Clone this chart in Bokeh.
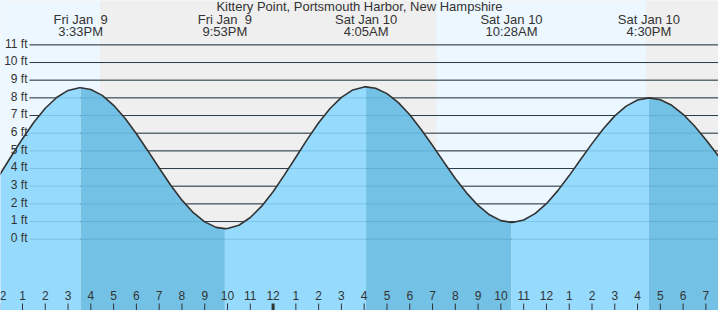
from bokeh.plotting import figure
from bokeh.models import Range1d
from bokeh.embed import file_html
from bokeh.resources import INLINE
from bokeh.core.properties import value

title = "Kittery Point, Portsmouth Harbor, New Hampshire"

# hours since Fri Jan 9 00:00 and water level (ft)
curve_hours = [12.0, 12.5, 13.0, 13.5, 14.0, 14.5, 15.0, 15.5, 15.55,
               16.0, 16.5, 17.0, 17.5, 18.0, 18.5, 19.0, 19.5, 20.0, 20.5, 21.0, 21.5, 21.883,
               22.0, 22.5, 23.0, 23.5, 24.0, 24.5, 25.0, 25.5, 26.0, 26.5, 27.0, 27.5, 28.0, 28.083,
               28.5, 29.0, 29.5, 30.0, 30.5, 31.0, 31.5, 32.0, 32.5, 33.0, 33.5, 34.0, 34.467,
               34.5, 35.0, 35.5, 36.0, 36.5, 37.0, 37.5, 38.0, 38.5, 39.0, 39.5, 40.0, 40.5,
               41.0, 41.5, 42.0, 42.5, 43.0, 43.5, 44.0]
curve_ft = [3.65, 4.68, 5.69, 6.62, 7.41, 8.02, 8.42, 8.57, 8.57,
            8.47, 8.14, 7.58, 6.85, 5.97, 5.01, 4.03, 3.07, 2.21, 1.50, 0.98, 0.67, 0.60,
            0.61, 0.79, 1.23, 1.87, 2.69, 3.64, 4.64, 5.65, 6.59, 7.40, 8.03, 8.45, 8.62, 8.62,
            8.54, 8.24, 7.73, 7.04, 6.21, 5.30, 4.36, 3.44, 2.61, 1.91, 1.38, 1.05, 0.95,
            0.95, 1.09, 1.45, 2.01, 2.75, 3.60, 4.51, 5.41, 6.25, 6.98, 7.53, 7.88, 8.00,
            7.89, 7.58, 7.07, 6.41, 5.63, 4.79, 3.93]

# high / low tides
tide_hours = [15.55, 21.883, 28.083, 34.467, 40.5]
tide_ft = [8.57, 0.60, 8.62, 0.95, 8.00]
tide_day = ["Fri Jan \u00a09", "Fri Jan \u00a09", "Sat Jan 10", "Sat Jan 10", "Sat Jan 10"]
tide_clock = ["3:33PM", "9:53PM", "4:05AM", "10:28AM", "4:30PM"]

# daylight (start, end) in hours since Fri 00:00
day_start = [7.2, 31.16]
day_end = [16.40, 40.39]
night_start = [16.40, 40.39]
night_end = [31.16, 55.0]

ft_ticks = [0, 1, 2, 3, 4, 5, 6, 7, 8, 9, 10, 11]
ft_labels = ["0 ft", "1 ft", "2 ft", "3 ft", "4 ft", "5 ft", "6 ft", "7 ft", "8 ft", "9 ft", "10 ft", "11 ft"]

hour_labels = ["12", "1", "2", "3", "4", "5", "6", "7", "8", "9", "10", "11",
               "12", "1", "2", "3", "4", "5", "6", "7", "8", "9", "10", "11",
               "12", "1", "2", "3", "4", "5", "6", "7"]
hour_first = 12

# ---- layout ----
W, H = 718, 310
xs, xe = 12.0342, 43.553
ybot, ytop = -4.035, 13.51
ppx = W / (xe - xs)
ppy = H / (ytop - ybot)


def xpx(px):
    return xs + px / ppx


def ypx(py):
    return ytop - py / ppy


FONT = value("Liberation Sans")
TXT = "#333333"
LIGHT = "#96DBFE"
DARK = "#73C1E5"

p = figure(width=W, height=H, x_range=Range1d(xs, xe), y_range=Range1d(ybot, ytop),
           output_backend="svg", toolbar_location=None, min_border=0, title=None,
           x_axis_location=None, y_axis_location=None)
p.xgrid.visible = False
p.ygrid.visible = False
p.outline_line_color = None
p.background_fill_color = "#EFEFEF"
p.border_fill_color = "#FFFFFF"

# day / night background
p.quad(left=day_start, right=day_end, bottom=ybot, top=ytop, fill_color="#EDF7FF", line_color=None)
p.quad(left=night_start, right=night_end, bottom=ybot, top=ytop, fill_color="#EFEFEF", line_color=None)

# grid lines
gx0 = xpx(29)
p.segment(x0=[gx0] * len(ft_ticks), y0=ft_ticks, x1=[xe + 1] * len(ft_ticks), y1=ft_ticks,
          line_color="#2b2b2b", line_width=1)

# water
bounds = [curve_hours[0]] + tide_hours + [curve_hours[-1]]
for i in range(len(bounds) - 1):
    xx = [h for h in curve_hours if bounds[i] <= h <= bounds[i + 1]]
    yy = [f for h, f in zip(curve_hours, curve_ft) if bounds[i] <= h <= bounds[i + 1]]
    p.varea(x=xx, y1=[ybot] * len(xx), y2=yy, fill_color=LIGHT if i % 2 == 0 else DARK)

# faint grid lines over water
p.segment(x0=[gx0] * len(ft_ticks), y0=ft_ticks, x1=[xe + 1] * len(ft_ticks), y1=ft_ticks,
          line_color="#2F7FB0", line_alpha=0.25, line_width=1)

# tide curve
p.line(curve_hours, curve_ft, line_color="#333333", line_width=1.6)

# y labels
p.text(x=[xpx(27)] * len(ft_ticks), y=[t + 1.2 / ppy for t in ft_ticks], text=ft_labels,
       text_font=FONT, text_font_size="12px", text_color=TXT,
       text_align="right", text_baseline="middle")

# hour ticks and labels
hours = [hour_first + i for i in range(len(hour_labels))]
widths = [3 if lab == "12" and i == 12 else 1 for i, lab in enumerate(hour_labels)]
p.segment(x0=hours, y0=[ybot] * len(hours), x1=hours, y1=[ypx(303)] * len(hours),
          line_color="#333333", line_width=widths)
p.text(x=hours, y=[ypx(294.7)] * len(hours), text=hour_labels,
       text_font=FONT, text_font_size="12px", text_color=TXT,
       text_align="center", text_baseline="middle")

# tide labels
p.text(x=tide_hours, y=[ypx(19.3)] * len(tide_hours), text=tide_day,
       text_font=FONT, text_font_size="13px", text_color=TXT,
       text_align="center", text_baseline="middle")
p.text(x=tide_hours, y=[ypx(31.3)] * len(tide_hours), text=tide_clock,
       text_font=FONT, text_font_size="13px", text_color=TXT,
       text_align="center", text_baseline="middle")

# title
p.text(x=[(xs + xe) / 2], y=[ypx(6.0)], text=[title],
       text_font=FONT, text_font_size="13px", text_color=TXT,
       text_align="center", text_baseline="middle")

open("out.html", "w").write(file_html(p, INLINE))
